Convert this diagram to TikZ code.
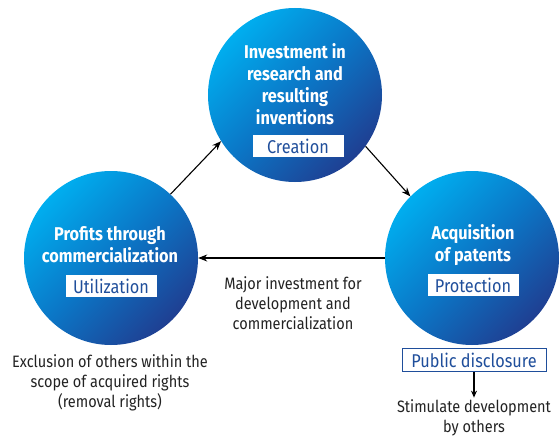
\documentclass[tikz,border=0pt]{standalone}
\usepackage{fontspec}
\setmainfont{Fira Sans}[FakeStretch=0.88]
\usetikzlibrary{calc,arrows.meta}
\definecolor{skyblue}{HTML}{00AEEF}
\definecolor{midblue}{HTML}{0B76C6}
\definecolor{deepblue}{HTML}{1F3F92}
\definecolor{labelblue}{HTML}{1F4E9B}
\definecolor{inkgray}{HTML}{222222}

\begin{document}
\begin{tikzpicture}[x=1pt,y=-1pt,
  stage/.style={circle,minimum size=174pt,inner sep=0pt,top color=skyblue,bottom color=deepblue,middle color=midblue,shading angle=45},
  title/.style={text=white,font=\bfseries\fontsize{18.5}{22}\selectfont,align=center,inner sep=0pt},
  tag/.style={fill=white,text=labelblue,font=\fontsize{18.5}{20}\selectfont,minimum width=91pt,minimum height=22pt,inner sep=0pt},
  note/.style={text=inkgray,font=\fontsize{16.5}{20}\selectfont,align=center,inner sep=2pt},
  flow/.style={-{Stealth[length=9pt,width=7pt]},line width=1.1pt}]
\useasboundingbox (0,0) rectangle (560,436);
% the three stages
\node[stage] (create) at (295,95) {};
\node[stage] (utilize) at (111,258) {};
\node[stage] (protect) at (472,258) {};
\node[title] (createtxt) at (295,84) {Investment in\\research and\\resulting\\inventions};
\node[title] (utilizetxt) at (110,245) {Profits through\\commercialization};
\node[title] (protecttxt) at (473,245) {Acquisition\\of patents};
\node[tag] (createtag) at (298,146) {Creation};
\node[tag] (utilizetag) at (111,286) {Utilization};
\node[tag] (protecttag) at (473,285) {Protection};
% cycle
\draw[flow] (utilize.47) -- (create.212);
\draw[flow] (create.-36) -- (protect.135);
\draw[flow] (protect.west) -- (utilize.east);
% notes
\node[note] (invest) at (293,303) {Major investment for\\development and\\commercialization};
\node[note] (exclude) at (110,383) {Exclusion of others within the\\scope of acquired rights\\(removal rights)};
\node[tag,draw=labelblue,line width=0.8pt,minimum width=144pt,minimum height=23pt] (disclose) at (474,360) {Public disclosure};
\node[note] (stimulate) at (474,418) {Stimulate development\\by others};
\draw[-{Stealth[length=7pt,width=6pt]},line width=1.1pt] (disclose.south) -- (stimulate.north);
\end{tikzpicture}
\end{document}
